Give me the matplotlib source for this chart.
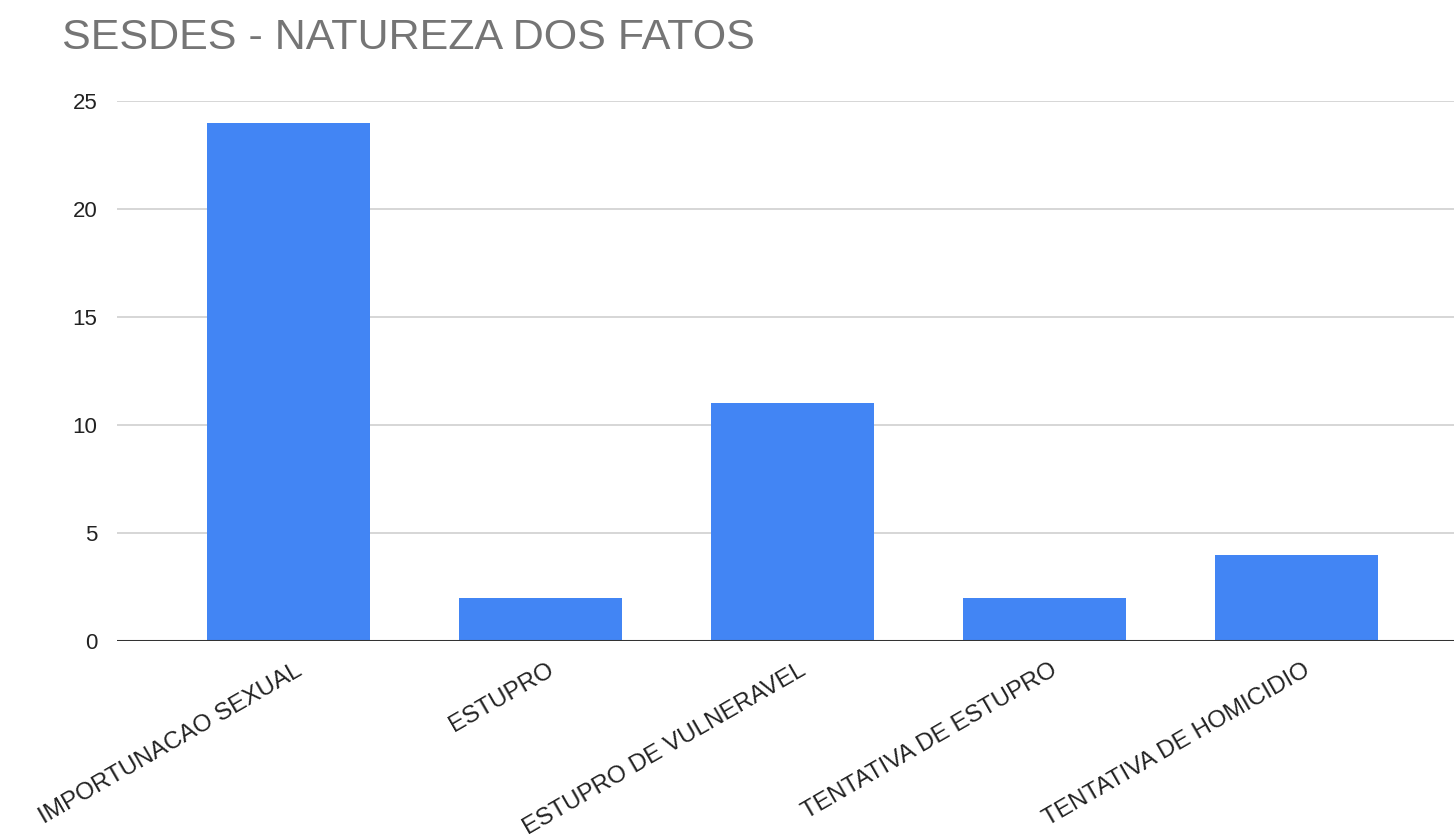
import matplotlib.pyplot as plt
import matplotlib.transforms as mtransforms
import numpy as np

categories = ['IMPORTUNACAO SEXUAL', 'ESTUPRO', 'ESTUPRO DE VULNERAVEL',
              'TENTATIVA DE ESTUPRO', 'TENTATIVA DE HOMICIDIO']
values = [24, 2, 11, 2, 4]
y_ticks = [0, 5, 10, 15, 20, 25]

plt.rcParams['font.family'] = ['Liberation Sans', 'DejaVu Sans']

fig = plt.figure(figsize=(14.54, 8.39), dpi=100)
ax = fig.add_axes([117 / 1454, 1 - 641 / 839, 1 - 117 / 1454, (641 - 101) / 839])

x = np.arange(len(categories))
ax.bar(x, values, width=0.647, color='#4285f4', zorder=3)

ax.set_xlim(-0.68, 4.625)
ax.set_ylim(0, 25)
ax.set_yticks(y_ticks)
ax.yaxis.grid(True, color='#d3d3d3', linewidth=1.3, zorder=0)
ax.axhline(0, color='#333333', linewidth=2.2, zorder=4)

for s in ax.spines.values():
    s.set_visible(False)

ax.tick_params(axis='y', length=0, pad=14, labelsize=16, labelcolor='#222222')
ax.tick_params(axis='x', length=0, pad=13, labelsize=17.5, labelcolor='#222222')
ax.set_xticks(x)
ax.set_xticklabels(categories, rotation=30, ha='right', rotation_mode='anchor')
shift = mtransforms.ScaledTranslation(6 / 100, 0, fig.dpi_scale_trans)
for lbl in ax.get_xticklabels():
    lbl.set_transform(lbl.get_transform() + shift)

fig.text(62 / 1454, 1 - 38 / 839, 'SESDES - NATUREZA DOS FATOS', fontsize=31,
         color='#757575', ha='left', va='center')

plt.savefig('out.png', dpi=100)
